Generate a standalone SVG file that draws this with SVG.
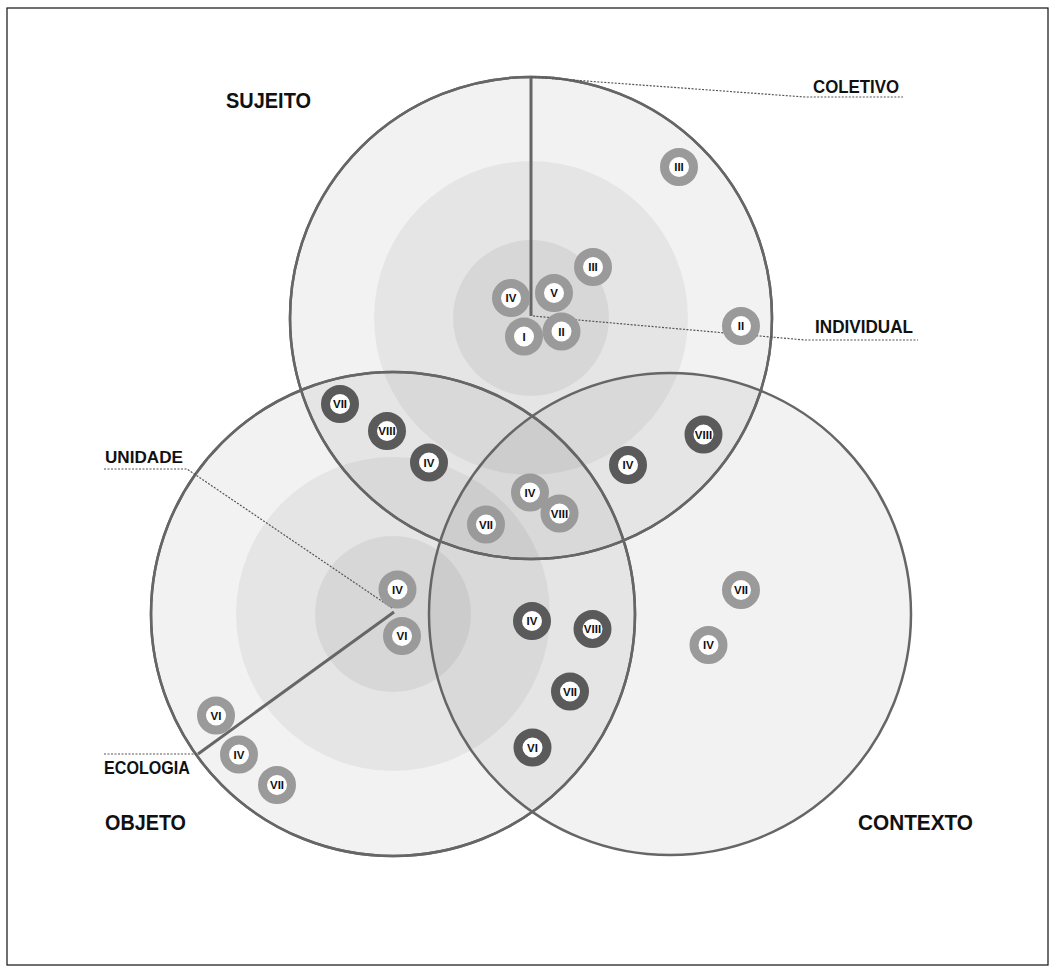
<svg xmlns="http://www.w3.org/2000/svg" width="1055" height="973" viewBox="0 0 1055 973">
<style>
.big{fill:#000;fill-opacity:0.05;stroke:#666;stroke-width:2.5}
.mid{fill:#000;fill-opacity:0.05;stroke:none}
.sml{fill:#000;fill-opacity:0.06;stroke:none}
.edge{fill:none;stroke:#666;stroke-width:2.5}
.lbl{font-family:"Liberation Sans",Arial,sans-serif;font-weight:bold;fill:#111}
.bt{font-family:"Liberation Sans",Arial,sans-serif;font-weight:bold;font-size:11.5px;fill:#111;text-anchor:middle}
.rl{fill:#fff;stroke:#9a9a9a;stroke-width:9}
.rd{fill:#fff;stroke:#5a5a5a;stroke-width:9}
.dot{fill:none;stroke:#555;stroke-width:1.2;stroke-dasharray:2 1.5}
.solid{fill:none;stroke:#666;stroke-width:3}
</style>
<rect x="7" y="8" width="1041" height="957" fill="#fff" stroke="#111" stroke-width="1.2"/>
<g id="circle-sujeito">
<circle class="big" cx="531" cy="318" r="241"/>
<circle class="mid" cx="531" cy="318" r="157"/>
<circle class="sml" cx="531" cy="318" r="78"/>
</g>
<g id="circle-objeto">
<circle class="big" cx="393" cy="614" r="242"/>
<circle class="mid" cx="393" cy="614" r="157"/>
<circle class="sml" cx="393" cy="614" r="78"/>
</g>
<g id="circle-contexto">
<circle class="big" cx="670" cy="614" r="241"/>
</g>
<g id="outlines">
<circle class="edge" cx="531" cy="318" r="241"/>
<circle class="edge" cx="393" cy="614" r="242"/>
</g>
<g id="connectors">
<path class="solid" d="M531,78 L531,316"/>
<path class="dot" d="M531,77 L805,97 L903,97"/>
<path class="dot" d="M533,316 L805,340 L918,340"/>
<path class="dot" d="M104,469 L187,469 L392,608"/>
<path class="dot" d="M104,754 L198,754"/>
<path class="solid" d="M198,754 L394,612"/>
</g>
<g id="labels">
<text class="lbl" x="226" y="108" font-size="21.5" textLength="85" lengthAdjust="spacingAndGlyphs">SUJEITO</text>
<text class="lbl" x="105" y="830" font-size="21.5" textLength="81" lengthAdjust="spacingAndGlyphs">OBJETO</text>
<text class="lbl" x="858" y="830" font-size="21.5" textLength="115" lengthAdjust="spacingAndGlyphs">CONTEXTO</text>
<text class="lbl" x="813" y="93" font-size="17.5" textLength="86" lengthAdjust="spacingAndGlyphs">COLETIVO</text>
<text class="lbl" x="815" y="333" font-size="17.5" textLength="98" lengthAdjust="spacingAndGlyphs">INDIVIDUAL</text>
<text class="lbl" x="105" y="463" font-size="17" textLength="78" lengthAdjust="spacingAndGlyphs">UNIDADE</text>
<text class="lbl" x="104" y="774" font-size="17.5" textLength="86" lengthAdjust="spacingAndGlyphs">ECOLOGIA</text>
</g>
<g id="badges">
<g id="b1"><circle class="rl" cx="679" cy="167" r="14.5"/><text class="bt" x="679" y="171">III</text></g>
<g id="b2"><circle class="rl" cx="593" cy="267" r="14.5"/><text class="bt" x="593" y="271">III</text></g>
<g id="b3"><circle class="rl" cx="511" cy="298" r="14.5"/><text class="bt" x="511" y="302">IV</text></g>
<g id="b4"><circle class="rl" cx="554" cy="293" r="14.5"/><text class="bt" x="554" y="297">V</text></g>
<g id="b5"><circle class="rl" cx="561.5" cy="331.5" r="14.5"/><text class="bt" x="561.5" y="335.5">II</text></g>
<g id="b6"><circle class="rl" cx="524" cy="336.5" r="14.5"/><text class="bt" x="524" y="340.5">I</text></g>
<g id="b7"><circle class="rl" cx="741" cy="326" r="14.5"/><text class="bt" x="741" y="330">II</text></g>
<g id="b8"><circle class="rd" cx="340" cy="404" r="14.5"/><text class="bt" x="340" y="408">VII</text></g>
<g id="b9"><circle class="rd" cx="387" cy="431" r="14.5"/><text class="bt" x="387" y="435">VIII</text></g>
<g id="b10"><circle class="rd" cx="429" cy="462.5" r="14.5"/><text class="bt" x="429" y="466.5">IV</text></g>
<g id="b11"><circle class="rd" cx="628" cy="465" r="14.5"/><text class="bt" x="628" y="469">IV</text></g>
<g id="b12"><circle class="rd" cx="703.5" cy="434.5" r="14.5"/><text class="bt" x="703.5" y="438.5">VIII</text></g>
<g id="b13"><circle class="rl" cx="530" cy="492.5" r="14.5"/><text class="bt" x="530" y="496.5">IV</text></g>
<g id="b14"><circle class="rl" cx="559.5" cy="513.5" r="14.5"/><text class="bt" x="559.5" y="517.5">VIII</text></g>
<g id="b15"><circle class="rl" cx="486" cy="524.5" r="14.5"/><text class="bt" x="486" y="528.5">VII</text></g>
<g id="b16"><circle class="rl" cx="397.5" cy="589.5" r="14.5"/><text class="bt" x="397.5" y="593.5">IV</text></g>
<g id="b17"><circle class="rl" cx="402" cy="636" r="14.5"/><text class="bt" x="402" y="640">VI</text></g>
<g id="b18"><circle class="rl" cx="216" cy="715.5" r="14.5"/><text class="bt" x="216" y="719.5">VI</text></g>
<g id="b19"><circle class="rl" cx="239" cy="754.5" r="14.5"/><text class="bt" x="239" y="758.5">IV</text></g>
<g id="b20"><circle class="rl" cx="277" cy="785" r="14.5"/><text class="bt" x="277" y="789">VII</text></g>
<g id="b21"><circle class="rd" cx="532" cy="621" r="14.5"/><text class="bt" x="532" y="625">IV</text></g>
<g id="b22"><circle class="rd" cx="592.5" cy="629" r="14.5"/><text class="bt" x="592.5" y="633">VIII</text></g>
<g id="b23"><circle class="rd" cx="570" cy="691.5" r="14.5"/><text class="bt" x="570" y="695.5">VII</text></g>
<g id="b24"><circle class="rd" cx="532.5" cy="747.5" r="14.5"/><text class="bt" x="532.5" y="751.5">VI</text></g>
<g id="b25"><circle class="rl" cx="741" cy="590" r="14.5"/><text class="bt" x="741" y="594">VII</text></g>
<g id="b26"><circle class="rl" cx="708.5" cy="645" r="14.5"/><text class="bt" x="708.5" y="649">IV</text></g>
</g>
</svg>
